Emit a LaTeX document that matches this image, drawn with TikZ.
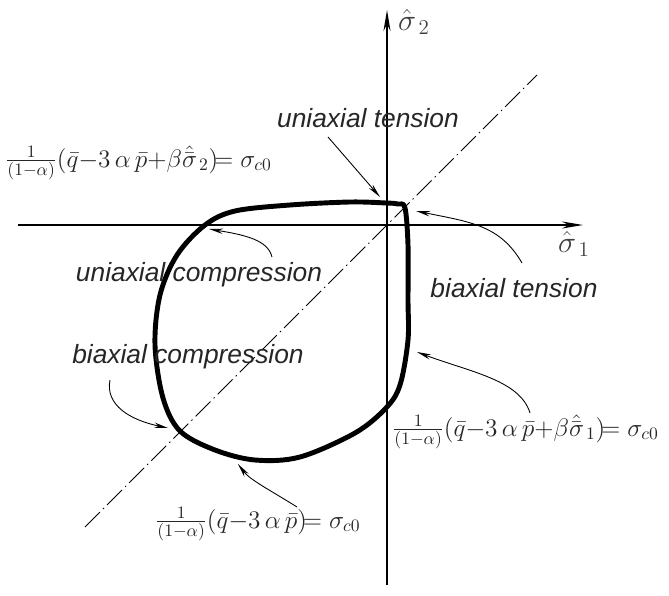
\documentclass[tikz,border=0pt]{standalone}
\usepackage{fontspec}
\usepackage{amsmath}
\usetikzlibrary{arrows.meta}
\newfontfamily\lblfont{Liberation Sans}

\begin{document}
\begin{tikzpicture}[x=0.02cm, y=-0.02cm,
    axis/.style={line width=0.8pt, -{Stealth[length=12pt,width=4pt]}},
    diag/.style={line width=0.5pt, dash pattern=on 12pt off 2.5pt on 0.8pt off 2.5pt},
    yieldcurve/.style={line width=2.8pt, line join=round},
    pointer/.style={line width=0.5pt, -{Stealth[length=8pt,width=3pt]}},
    lbl/.style={font=\lblfont\itshape\fontsize{15}{18}\selectfont, text=black!85, inner sep=0pt},
    axlbl/.style={font=\fontsize{17}{20}\selectfont, text=black!75, inner sep=0pt},
    eqn/.style={font=\fontsize{14.5}{17}\selectfont, text=black!85, inner sep=0pt, anchor=west}
]
\useasboundingbox (0,0) rectangle (669,595);

% Axes
\coordinate (s1start) at (18,225);
\coordinate (s1end) at (583,225);
\coordinate (s2start) at (387,585);
\coordinate (s2end) at (387,10);
\draw[axis] (s1start) -- (s1end);
\draw[axis] (s2start) -- (s2end);
\node[axlbl] (s1) at (574,244) {$\hat{\sigma}_{\,1}$};
\node[axlbl] (s2) at (414,22) {$\hat{\sigma}_{\,2}$};

% Diagonal
\coordinate (dlow) at (85,527);
\coordinate (dhigh) at (537,75);
\draw[diag] (dlow) -- (dhigh);

% Yield surface
\coordinate (bt) at (405,208);
\coordinate (uc) at (205,225);
\coordinate (bc) at (180,431);
\coordinate (ut) at (386,203);
\coordinate (cb) at (300,457);
\coordinate (cr) at (408,340);
\draw[yieldcurve] plot[smooth cycle, tension=0.55] coordinates {
    (bt) (408,245) (408,300) (cr) (400,385) (386,408) (355,433) (cb)
    (255,460) (215,450) (bc) (163,398) (155,345) (160,295) (177,255)
    (uc) (235,211) (290,205) (350,202) (ut) (398,204)};

% Labels
\node[lbl] (ulabel) at (368,118) {uniaxial tension};
\node[lbl] (uclabel) at (199,275) {uniaxial compression};
\node[lbl] (btlabel) at (514,288) {biaxial tension};
\node[lbl] (bclabel) at (188,357) {biaxial compression};

\node[eqn] (eq1) at (5,163) {$\frac{1}{(1-\alpha)}(\bar{q}{-}3\,\alpha\,\bar{p}{+}\beta\hat{\bar{\sigma}}_{\,2})\!{=}\;\sigma_{c0}$};
\node[eqn] (eq2) at (392,432) {$\frac{1}{(1-\alpha)}(\bar{q}{-}3\,\alpha\,\bar{p}{+}\beta\hat{\bar{\sigma}}_{\,1})\!{=}\;\sigma_{c0}$};
\node[eqn] (eq3) at (155,524) {$\frac{1}{(1-\alpha)}(\bar{q}{-}3\,\alpha\,\bar{p})\!{=}\;\sigma_{c0}$};

% Pointers
\coordinate (pa) at (328,137);
\coordinate (pb) at (522,263);
\coordinate (pc) at (272,257);
\coordinate (pd) at (110,380);
\coordinate (pe) at (297,507);
\coordinate (pf) at (530,413);
\draw[pointer] (pa) -- (380,197);
\draw[pointer] (pb) .. controls (500,225) and (470,222) .. (416,211);
\draw[pointer] (pc) .. controls (268,240) and (245,235) .. (209,229);
\draw[pointer] (pd) .. controls (105,405) and (130,420) .. (168,428);
\draw[pointer] (pe) .. controls (270,490) and (250,480) .. (238,464);
\draw[pointer] (pf) .. controls (520,380) and (470,372) .. (417,352);

\end{tikzpicture}
\end{document}
